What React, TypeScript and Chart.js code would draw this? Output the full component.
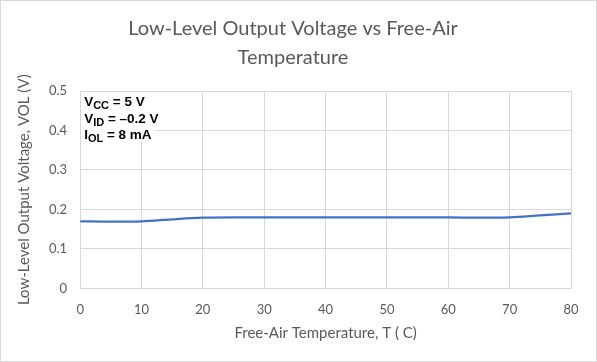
import React, { useEffect, useRef } from "react";
import { Chart, registerables } from "chart.js";

Chart.register(...registerables);

const temperatures = [0, 5, 10, 15, 20, 25, 30, 35, 40, 45, 50, 55, 60, 65, 70, 75, 80];
const volValues = [0.17, 0.169, 0.17, 0.175, 0.179, 0.18, 0.18, 0.18, 0.18, 0.18, 0.18, 0.18, 0.18, 0.179, 0.18, 0.185, 0.19];
const titleLines = ["Low-Level Output Voltage vs Free-Air", "Temperature"];
const xAxisTitle = "Free-Air Temperature, T ( C)";
const yAxisTitle = "Low-Level Output Voltage, VOL (V)";
const conditions: [string, string, string][] = [
  ["V", "CC", " = 5 V"],
  ["V", "ID", " = \u20130.2 V"],
  ["I", "OL", " = 8 mA"],
];

const FONT = "Lato, 'Open Sans', sans-serif";
const GREY = "#595959";

const conditionsPlugin = {
  id: "conditions",
  afterDraw(chart: any) {
    const { ctx, chartArea } = chart;
    ctx.save();
    const x0 = chartArea.left + 4;
    let y = chartArea.top + 15;
    ctx.fillStyle = "#ffffff";
    ctx.fillRect(chartArea.left + 1, chartArea.top + 1, 73, 49);
    ctx.fillStyle = "#000000";
    ctx.textBaseline = "alphabetic";
    const main = "bold 13.5px Arial, 'Liberation Sans', sans-serif";
    const small = "bold 11px Arial, 'Liberation Sans', sans-serif";
    for (const [m, sub, rest] of conditions) {
      ctx.font = main;
      ctx.fillText(m, x0, y);
      let x = x0 + ctx.measureText(m).width;
      ctx.font = small;
      ctx.fillText(sub, x, y + 3);
      x += ctx.measureText(sub).width;
      ctx.font = main;
      ctx.fillText(rest, x, y);
      y += 16.5;
    }
    ctx.restore();
  },
};

const borderPlugin = {
  id: "outerBorder",
  afterDraw(chart: any) {
    const { ctx, width, height } = chart;
    ctx.save();
    ctx.strokeStyle = "#d9d9d9";
    ctx.lineWidth = 1;
    ctx.strokeRect(0.5, 0.5, width - 1, height - 1);
    ctx.restore();
  },
};

export default function App() {
  const canvasRef = useRef<HTMLCanvasElement | null>(null);

  useEffect(() => {
    document.body.style.margin = "0";
    const canvas = canvasRef.current;
    if (!canvas) return;
    const chart = new Chart(canvas, {
      type: "line",
      data: {
        datasets: [
          {
            data: temperatures.map((t, i) => ({ x: t, y: volValues[i] })),
            borderColor: "#4472C4",
            borderWidth: 2.25,
            pointRadius: 0,
            tension: 0.4,
            cubicInterpolationMode: "monotone",
            fill: false,
          },
        ],
      },
      options: {
        animation: false,
        responsive: false,
        maintainAspectRatio: false,
        layout: { padding: { left: 15, right: 26, top: 14, bottom: 20 } },
        plugins: {
          legend: { display: false },
          tooltip: { enabled: false },
          title: {
            display: true,
            text: titleLines,
            color: GREY,
            font: { family: FONT, size: 20, weight: "normal", lineHeight: 1.45 },
            padding: { top: 0, bottom: 19 },
          },
        },
        scales: {
          x: {
            type: "linear",
            min: 0,
            max: 80,
            ticks: { stepSize: 10, color: GREY, font: { family: FONT, size: 13 }, padding: 14 },
            grid: { color: "#d9d9d9", drawTicks: false },
            border: { color: "#d9d9d9" },
            title: { display: true, text: xAxisTitle, color: GREY, font: { family: FONT, size: 15 }, padding: { top: -8, bottom: 0 } },
          },
          y: {
            min: 0,
            max: 0.5,
            ticks: {
              stepSize: 0.1,
              color: GREY,
              font: { family: FONT, size: 13 },
              padding: 13,
              callback: (v: any) => (Math.round(Number(v) * 10) / 10).toString(),
            },
            grid: { color: "#d9d9d9", drawTicks: false },
            border: { color: "#d9d9d9" },
            title: { display: true, text: yAxisTitle, color: GREY, font: { family: FONT, size: 15 }, padding: { top: 0, bottom: 3 } },
          },
        },
      },
      plugins: [conditionsPlugin, borderPlugin],
    });
    return () => chart.destroy();
  }, []);

  return <canvas ref={canvasRef} width={597} height={362} style={{ display: "block" }} />;
}
